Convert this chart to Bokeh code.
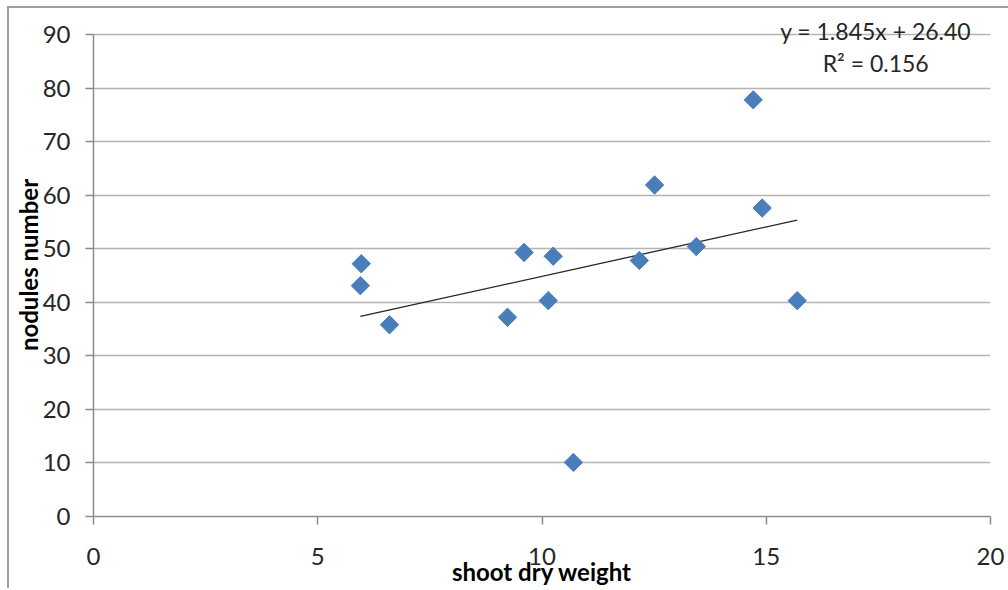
from bokeh.plotting import figure
from bokeh.models import Label, Range1d, FixedTicker
from bokeh.embed import file_html
from bokeh.resources import INLINE

# data
shoot_dry_weight = [5.97, 5.95, 6.60, 9.23, 9.60, 10.14, 10.25, 10.70, 12.17, 12.51, 13.44, 14.71, 14.91, 15.69]
nodules_number = [47.2, 43.1, 35.8, 37.2, 49.3, 40.3, 48.6, 10.1, 47.8, 61.9, 50.4, 77.8, 57.6, 40.3]
slope = 1.845
intercept = 26.40
r_squared = 0.156
x_ticks = [0, 5, 10, 15, 20]
y_ticks = [0, 10, 20, 30, 40, 50, 60, 70, 80, 90]
y_max = 90

FONT = "Lato"
GRID = "#b4b4b4"
AXIS = "#8c8c8c"

# frame extends a little above the top gridline so the trendline label is not clipped
headroom = 3.921
p = figure(frame_width=897, frame_height=503,
           min_border_left=84, min_border_top=5, min_border_right=18, min_border_bottom=66,
           x_range=Range1d(0, 20), y_range=Range1d(0, y_max + headroom),
           output_backend="svg", toolbar_location=None)
p.styles = {"border-top": "2px solid #a0a0a0", "border-left": "2px solid #a0a0a0",
            "margin-left": "7px", "margin-top": "6px"}
p.outline_line_color = None
p.background_fill_color = "white"
p.border_fill_color = "white"

# grid
p.xgrid.grid_line_color = None
p.ygrid.grid_line_color = GRID
p.ygrid.grid_line_width = 1.5

for ax in (p.xaxis[0], p.yaxis[0]):
    ax.axis_line_color = AXIS
    ax.axis_line_width = 1.5
    ax.major_tick_line_color = AXIS
    ax.major_tick_line_width = 1.5
    ax.major_tick_in = 0
    ax.major_tick_out = 8
    ax.minor_tick_line_color = None
    ax.major_label_text_font = FONT
    ax.major_label_text_font_size = "24px"
    ax.major_label_text_color = "#262626"
    ax.axis_label_text_font = FONT
    ax.axis_label_text_font_style = "bold"
    ax.axis_label_text_font_size = "24px"
    ax.axis_label_text_color = "black"

p.xaxis[0].ticker = FixedTicker(ticks=x_ticks)
p.yaxis[0].ticker = FixedTicker(ticks=y_ticks)
p.yaxis[0].bounds = (0, y_max)
p.yaxis[0].axis_label_align = "center"
p.xaxis[0].major_label_standoff = 23
p.yaxis[0].major_label_standoff = 15
p.xaxis[0].axis_label = "shoot dry weight"
p.yaxis[0].axis_label = "nodules number"
p.xaxis[0].axis_label_standoff = -11
p.yaxis[0].axis_label_standoff = -3

# trendline
x0, x1 = min(shoot_dry_weight), max(shoot_dry_weight)
p.line([x0, x1], [slope * x0 + intercept, slope * x1 + intercept],
       line_color="#262626", line_width=1.3)

# points
p.scatter(shoot_dry_weight, nodules_number, marker="square", angle=0.785398,
          size=13, fill_color="#4A7EBB", line_color="#4A7EBB")

# equation labels
p.add_layout(Label(x=17.44, y=90.6, text=f"y = {slope:.3f}x + {intercept:.2f}",
                   text_align="center", text_baseline="middle",
                   text_font=FONT, text_font_size="23px", text_color="#262626"))
p.add_layout(Label(x=17.44, y=84.7, text=f"R² = {r_squared:.3f}",
                   text_align="center", text_baseline="middle",
                   text_font=FONT, text_font_size="23px", text_color="#262626"))

open("out.html", "w").write(file_html(p, INLINE))
